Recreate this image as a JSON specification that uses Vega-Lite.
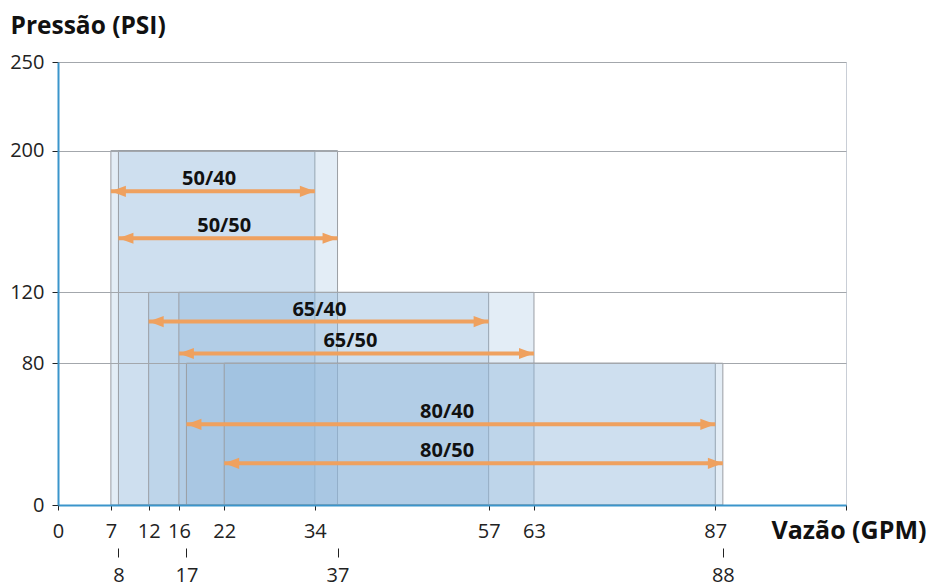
{
  "$schema": "https://vega.github.io/schema/vega-lite/v6.json",
  "width": 788,
  "height": 443,
  "autosize": "none",
  "padding": {"left": 58, "top": 62, "right": 87, "bottom": 83},
  "background": "white",
  "config": {"view": {"stroke": "#C9CED6"}, "font": "Open Sans"},
  "data": {"values": [
    {"name": "50/40", "x1": 7, "x2": 34, "top": 200, "ay": 177, "lx": 20},
    {"name": "50/50", "x1": 8, "x2": 37, "top": 200, "ay": 150.5, "lx": 22},
    {"name": "65/40", "x1": 12, "x2": 57, "top": 120, "ay": 103.5, "lx": 34.6},
    {"name": "65/50", "x1": 16, "x2": 63, "top": 120, "ay": 85.5, "lx": 38.7},
    {"name": "80/40", "x1": 17, "x2": 87, "top": 80, "ay": 45.5, "lx": 51.5},
    {"name": "80/50", "x1": 22, "x2": 88, "top": 80, "ay": 23.5, "lx": 51.5}
  ]},
  "resolve": {"axis": {"x": "independent"}},
  "layer": [
    {
      "mark": {"type": "rect", "fill": "#8EB6DC", "fillOpacity": 0.25, "stroke": "#9A9EA4", "strokeWidth": 1},
      "encoding": {
        "x": {"field": "x1", "type": "quantitative",
          "scale": {"domain": [0, 104.3], "nice": false, "zero": false},
          "axis": {"values": [0, 7, 12, 16, 22, 34, 57, 63, 87, 104.3],
            "labelExpr": "datum.value > 100 ? '' : datum.label",
            "orient": "bottom", "grid": false, "zindex": 1,
            "domainColor": "#3B95CB", "domainWidth": 2,
            "tickColor": "#222", "tickSize": 5, "tickWidth": 1,
            "labelFontSize": 20, "labelColor": "#222", "labelPadding": 11, "labelFlush": false, "labelOverlap": false,
            "title": "Vazão (GPM)", "titleFontSize": 25, "titleFontWeight": "bold", "titleColor": "#111",
            "titleAlign": "left", "titleBaseline": "middle", "titleX": 713, "titleY": 25, "titleAngle": 0}},
        "x2": {"field": "x2"},
        "y": {"field": "top", "type": "quantitative",
          "scale": {"domain": [0, 250], "nice": false},
          "axis": {"values": [0, 80, 120, 200, 250], "grid": true, "gridColor": "#A3A7AC", "gridWidth": 1, "zindex": 1,
            "domainColor": "#3B95CB", "domainWidth": 2,
            "tickColor": "#222", "tickSize": 6, "tickWidth": 1,
            "labelFontSize": 20, "labelColor": "#222", "labelPadding": 8,
            "title": "Pressão (PSI)", "titleFontSize": 24.5, "titleFontWeight": "bold", "titleColor": "#111",
            "titleAngle": 0, "titleAlign": "left", "titleBaseline": "middle", "titleX": -48, "titleY": -36}},
        "y2": {"datum": 0}
      }
    },
    {
      "mark": {"type": "rule", "color": "#EFA15F", "strokeWidth": 4},
      "encoding": {
        "x": {"field": "x1", "type": "quantitative",
          "axis": {"values": [8, 17, 37, 88], "orient": "bottom", "offset": 43, "domain": false, "grid": false,
            "tickColor": "#222", "tickSize": 9, "tickWidth": 1,
            "labelFontSize": 20, "labelColor": "#222", "labelPadding": 8, "labelFlush": false, "labelOverlap": false,
            "title": null}},
        "x2": {"field": "x2"},
        "y": {"field": "ay", "type": "quantitative"}
      }
    },
    {
      "mark": {"type": "point", "shape": "M0,0L-1,-0.37L-1,0.37Z", "filled": true, "size": 900, "color": "#EFA15F", "opacity": 1},
      "encoding": {
        "x": {"field": "x2", "type": "quantitative", "axis": null},
        "y": {"field": "ay", "type": "quantitative"}
      }
    },
    {
      "mark": {"type": "point", "shape": "M0,0L1,-0.37L1,0.37Z", "filled": true, "size": 900, "color": "#EFA15F", "opacity": 1},
      "encoding": {
        "x": {"field": "x1", "type": "quantitative", "axis": null},
        "y": {"field": "ay", "type": "quantitative"}
      }
    },
    {
      "mark": {"type": "text", "fontSize": 20, "fontWeight": "bold", "color": "#111", "dy": -12, "baseline": "middle"},
      "encoding": {
        "x": {"field": "lx", "type": "quantitative", "axis": null},
        "y": {"field": "ay", "type": "quantitative"},
        "text": {"field": "name"}
      }
    }
  ]
}
